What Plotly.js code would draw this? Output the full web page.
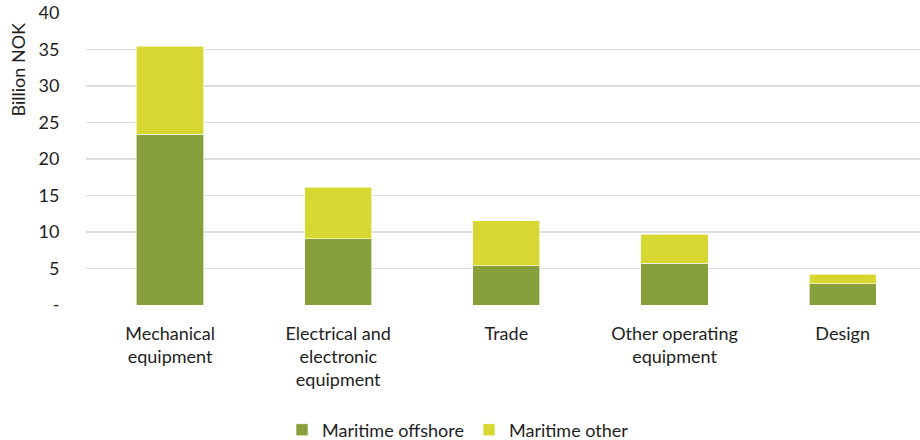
<!DOCTYPE html>
<html>
<head>
<meta charset="utf-8">
<script src="https://cdn.plot.ly/plotly-3.0.1.min.js"></script>
<style>html,body{margin:0;padding:0;background:#fff;}#chart{width:920px;height:440px;}</style>
</head>
<body>
<div id="chart"></div>
<script>
const categories = ["Mechanical<br>equipment", "Electrical and<br>electronic<br>equipment", "Trade", "Other operating<br>equipment", "Design"];
const maritimeOffshore = [23.4, 9.1, 5.4, 5.75, 2.9];
const maritimeOther = [12.05, 7.05, 6.15, 3.95, 1.3];
const yTickVals = [0, 5, 10, 15, 20, 25, 30, 35, 40];
const yTickText = ["-", "5", "10", "15", "20", "25", "30", "35", "40"];

const font = {family: "Lato, 'Open Sans', sans-serif", size: 18, color: "#1e1e1e"};

const traces = [
  {type: "bar", name: "Maritime offshore", x: categories, y: maritimeOffshore,
   marker: {color: "#88a03c", line: {color: "rgba(255,255,255,0.6)", width: 1}}},
  {type: "bar", name: "Maritime other", x: categories, y: maritimeOther,
   marker: {color: "#d6d831", line: {color: "rgba(255,255,255,0.6)", width: 1}}}
];

const layout = {
  width: 920, height: 440,
  margin: {l: 86, r: 0, t: 12.5, b: 135, autoexpand: false},
  barmode: "stack",
  bargap: 0.6,
  paper_bgcolor: "#fff", plot_bgcolor: "#fff",
  font: font,
  showlegend: true,
  legend: {orientation: "h", x: 0.235, xanchor: "left", y: -0.428, yanchor: "middle",
           font: font, itemwidth: 30, traceorder: "normal", bgcolor: "rgba(0,0,0,0)"},
  xaxis: {type: "category", range: [-0.5, 4.46], showgrid: false, zeroline: false,
          showline: false, ticks: "outside", ticklen: 12, tickcolor: "rgba(0,0,0,0)",
          tickfont: font, fixedrange: true, automargin: false},
  yaxis: {range: [0, 40], tickvals: yTickVals, ticktext: yTickText,
          showgrid: true, gridcolor: "#dcdede", gridwidth: 1.5,
          zeroline: false, showline: false,
          ticks: "outside", ticklen: 22, tickcolor: "rgba(0,0,0,0)",
          tickfont: font, fixedrange: true, automargin: false},
  annotations: [{text: "Billion NOK", xref: "paper", yref: "paper",
                 x: -0.082, y: 0.805, textangle: -90, showarrow: false,
                 xanchor: "center", yanchor: "middle", font: font}]
};

Plotly.newPlot("chart", traces, layout, {displayModeBar: false, staticPlot: true});
</script>
</body>
</html>
